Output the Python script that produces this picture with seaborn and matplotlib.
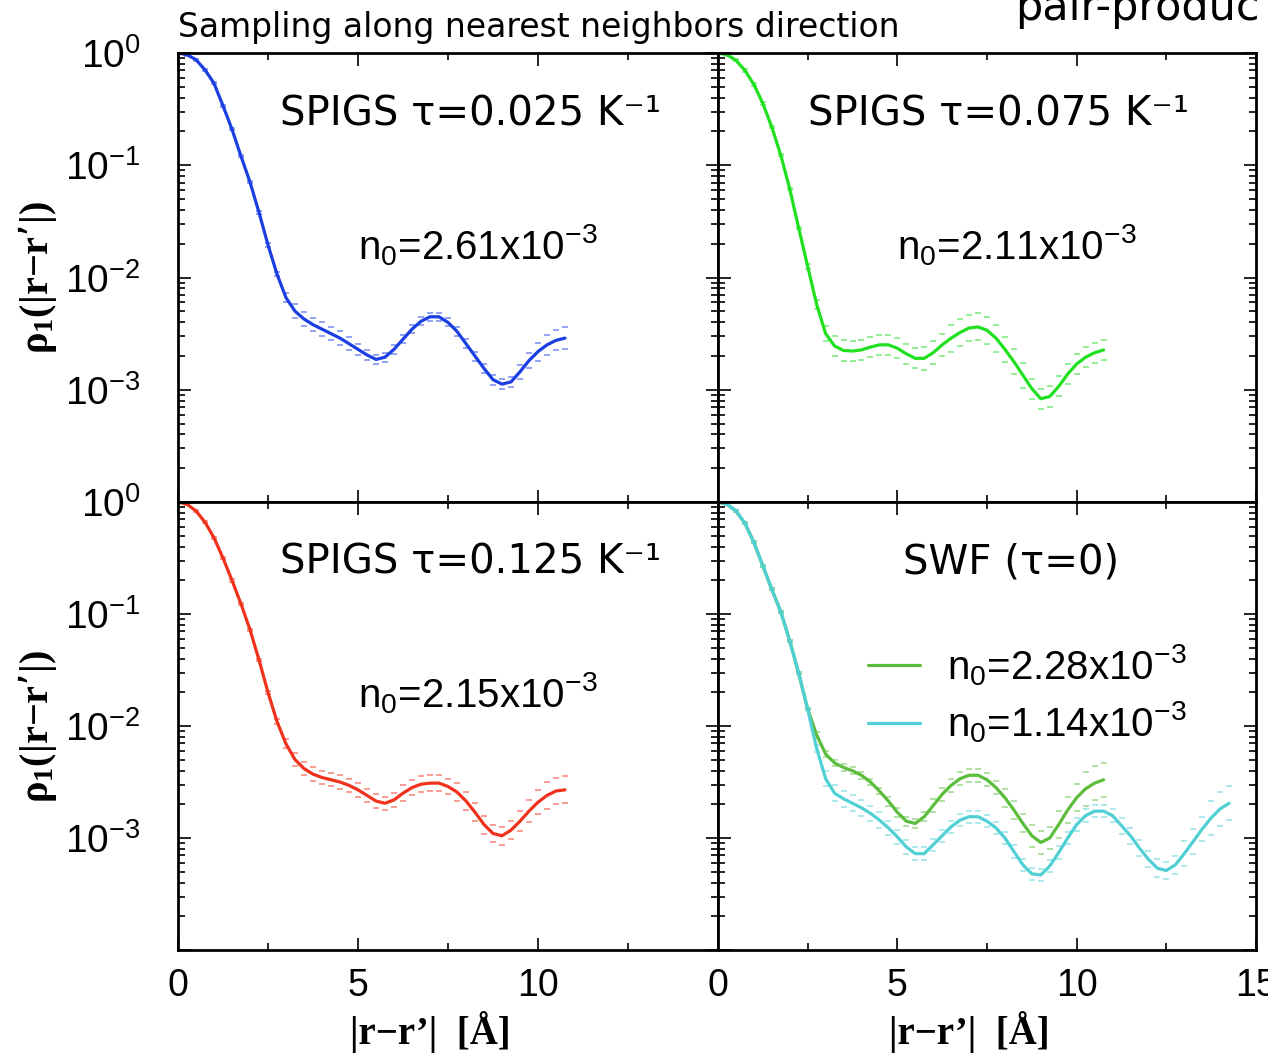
import matplotlib
matplotlib.use("Agg")
import numpy as np
import matplotlib.pyplot as plt
import seaborn as sns
from matplotlib.ticker import FixedLocator, LogLocator, NullFormatter

# ---------------- data ----------------
# distance |r-r'| in Angstrom
x_main = [0.0, 0.25, 0.5, 0.75, 1.0, 1.25, 1.5, 1.75, 2.0, 2.25, 2.5, 2.75,
          3.0, 3.25, 3.5, 3.75, 4.0, 4.25, 4.5, 4.75, 5.0, 5.25, 5.5, 5.75,
          6.0, 6.25, 6.5, 6.75, 7.0, 7.25, 7.5, 7.75, 8.0, 8.25, 8.5, 8.75,
          9.0, 9.25, 9.5, 9.75, 10.0, 10.25, 10.5, 10.75]
x_long = [0.0, 0.25, 0.5, 0.75, 1.0, 1.25, 1.5, 1.75, 2.0, 2.25, 2.5, 2.75,
          3.0, 3.25, 3.5, 3.75, 4.0, 4.25, 4.5, 4.75, 5.0, 5.25, 5.5, 5.75,
          6.0, 6.25, 6.5, 6.75, 7.0, 7.25, 7.5, 7.75, 8.0, 8.25, 8.5, 8.75,
          9.0, 9.25, 9.5, 9.75, 10.0, 10.25, 10.5, 10.75, 11.0, 11.25, 11.5,
          11.75, 12.0, 12.25, 12.5, 12.75, 13.0, 13.25, 13.5, 13.75, 14.0, 14.25]

# log10 of rho_1 and log10 half-width of error bars
spigs025_log = [0.0, -0.015, -0.06, -0.15, -0.27, -0.47, -0.68, -0.92, -1.15, -1.42,
                -1.71, -1.97, -2.18, -2.30, -2.37, -2.42, -2.46, -2.50, -2.54, -2.59,
                -2.64, -2.69, -2.73, -2.71, -2.64, -2.55, -2.46, -2.39, -2.35, -2.35,
                -2.40, -2.48, -2.59, -2.70, -2.81, -2.91, -2.95, -2.93, -2.84, -2.74,
                -2.66, -2.60, -2.56, -2.54]
spigs025_err = [0.01, 0.01, 0.01, 0.01, 0.01, 0.01, 0.01, 0.01, 0.01, 0.01,
                0.015, 0.02, 0.04, 0.06, 0.06, 0.06, 0.06, 0.06, 0.06, 0.06,
                0.05, 0.045, 0.04, 0.04, 0.04, 0.035, 0.035, 0.035, 0.035, 0.035,
                0.035, 0.04, 0.04, 0.04, 0.04, 0.045, 0.045, 0.045, 0.06, 0.07,
                0.08, 0.09, 0.09, 0.095]

spigs075_log = [0.0, -0.015, -0.065, -0.155, -0.28, -0.45, -0.66, -0.91, -1.21, -1.56,
                -1.90, -2.24, -2.50, -2.61, -2.65, -2.655, -2.645, -2.62, -2.60, -2.60,
                -2.63, -2.68, -2.72, -2.72, -2.67, -2.60, -2.54, -2.49, -2.45, -2.44,
                -2.47, -2.54, -2.64, -2.75, -2.87, -2.99, -3.08, -3.06, -2.97, -2.86,
                -2.77, -2.71, -2.67, -2.645]
spigs075_err = [0.01, 0.01, 0.01, 0.01, 0.01, 0.01, 0.01, 0.01, 0.01, 0.01,
                0.02, 0.04, 0.07, 0.09, 0.09, 0.09, 0.09, 0.09, 0.09, 0.09,
                0.09, 0.09, 0.09, 0.10, 0.10, 0.10, 0.12, 0.12, 0.12, 0.12,
                0.12, 0.12, 0.11, 0.11, 0.11, 0.09, 0.09, 0.09, 0.09, 0.09,
                0.09, 0.09, 0.09, 0.09]

spigs125_log = [0.0, -0.02, -0.08, -0.18, -0.32, -0.50, -0.70, -0.91, -1.14, -1.41,
                -1.70, -1.96, -2.16, -2.30, -2.38, -2.43, -2.46, -2.48, -2.50, -2.53,
                -2.57, -2.62, -2.67, -2.69, -2.66, -2.60, -2.55, -2.52, -2.51, -2.51,
                -2.54, -2.59, -2.67, -2.77, -2.88, -2.96, -2.98, -2.93, -2.85, -2.76,
                -2.68, -2.62, -2.58, -2.57]
spigs125_err = [0.01, 0.01, 0.01, 0.01, 0.01, 0.01, 0.01, 0.01, 0.01, 0.01,
                0.01, 0.02, 0.04, 0.06, 0.06, 0.06, 0.06, 0.06, 0.06, 0.06,
                0.06, 0.06, 0.06, 0.06, 0.06, 0.07, 0.07, 0.07, 0.07, 0.07,
                0.07, 0.08, 0.08, 0.08, 0.08, 0.08, 0.08, 0.08, 0.09, 0.10,
                0.11, 0.12, 0.12, 0.12]

swf_a_log = [0.0, -0.02, -0.08, -0.19, -0.36, -0.57, -0.78, -0.98, -1.24, -1.53,
             -1.85, -2.08, -2.25, -2.33, -2.37, -2.40, -2.44, -2.50, -2.58, -2.67,
             -2.77, -2.85, -2.87, -2.81, -2.71, -2.61, -2.53, -2.47, -2.44, -2.44,
             -2.48, -2.55, -2.64, -2.75, -2.87, -2.98, -3.04, -3.00, -2.88, -2.75,
             -2.64, -2.56, -2.51, -2.48]
swf_a_err = [0.01, 0.01, 0.01, 0.01, 0.01, 0.01, 0.01, 0.01, 0.01, 0.01,
             0.01, 0.03, 0.03, 0.03, 0.03, 0.03, 0.03, 0.03, 0.03, 0.04,
             0.04, 0.04, 0.04, 0.04, 0.06, 0.06, 0.06, 0.06, 0.06, 0.06,
             0.06, 0.06, 0.08, 0.08, 0.08, 0.10, 0.10, 0.10, 0.12, 0.12,
             0.12, 0.15, 0.15, 0.15]

swf_b_log = [0.0, -0.02, -0.08, -0.19, -0.36, -0.57, -0.78, -0.98, -1.24, -1.53,
             -1.85, -2.20, -2.47, -2.60, -2.65, -2.69, -2.73, -2.78, -2.84, -2.91,
             -2.99, -3.08, -3.14, -3.14, -3.06, -2.98, -2.90, -2.84, -2.81, -2.81,
             -2.85, -2.91, -3.00, -3.12, -3.24, -3.32, -3.33, -3.25, -3.13, -3.00,
             -2.88, -2.80, -2.76, -2.76, -2.80, -2.89, -2.98, -3.09, -3.19, -3.27,
             -3.29, -3.24, -3.14, -3.03, -2.92, -2.82, -2.74, -2.69]
swf_b_err = [0.01, 0.01, 0.01, 0.01, 0.01, 0.01, 0.01, 0.01, 0.01, 0.01,
             0.01, 0.03, 0.07, 0.07, 0.07, 0.07, 0.07, 0.07, 0.07, 0.06,
             0.06, 0.06, 0.06, 0.06, 0.055, 0.055, 0.055, 0.055, 0.055, 0.055,
             0.055, 0.055, 0.055, 0.055, 0.055, 0.055, 0.055, 0.055, 0.055, 0.055,
             0.055, 0.055, 0.055, 0.055, 0.055, 0.07, 0.07, 0.07, 0.07, 0.08,
             0.08, 0.08, 0.11, 0.11, 0.11, 0.15, 0.15, 0.15]

panel_titles = ["SPIGS τ=0.025 K⁻¹", "SPIGS τ=0.075 K⁻¹",
                "SPIGS τ=0.125 K⁻¹", "SWF (τ=0)"]
n0_labels = ["n$_0$=2.61x10$^{-3}$", "n$_0$=2.11x10$^{-3}$", "n$_0$=2.15x10$^{-3}$"]
swf_labels = ["n$_0$=2.28x10$^{-3}$", "n$_0$=1.14x10$^{-3}$"]
ytick_vals = [1.0, 1e-1, 1e-2, 1e-3, 1e-4]
ytick_text = ["$10^{0}$", "$10^{-1}$", "$10^{-2}$", "$10^{-3}$", ""]
xtick_vals = [0, 5, 10, 15]

# ---------------- style ----------------
sns.set_theme(style="ticks")
plt.rcParams["mathtext.default"] = "regular"
plt.rcParams["font.family"] = ["DejaVu Sans"]
plt.rcParams["axes.linewidth"] = 2.0
for k in ("text.color", "axes.labelcolor", "xtick.color", "ytick.color",
          "axes.edgecolor"):
    plt.rcParams[k] = "black"

SANS = "Liberation Sans"
SERIF = "Liberation Serif"

c_blue = "#1b3ee2"
c_green = "#20e020"
c_red = "#f0321c"
c_swfa = "#5cbd3c"
c_swfb = "#50d0d4"

fig = plt.figure(figsize=(12.68, 10.55), dpi=100)
axTL = fig.add_axes([0.14038, 0.52417, 0.42587, 0.42559])
axTR = fig.add_axes([0.56625, 0.52417, 0.42429, 0.42559])
axBL = fig.add_axes([0.14038, 0.09953, 0.42587, 0.42464])
axBR = fig.add_axes([0.56625, 0.09953, 0.42429, 0.42464])


def draw(ax, x, logy, elog, color, label=None):
    x = np.asarray(x, float)
    ly = np.asarray(logy, float)
    e = np.asarray(elog, float)
    sns.lineplot(x=x, y=10 ** ly, ax=ax, color=color, lw=2.3, sort=False,
                 estimator=None, label=label, legend=(label is not None))
    for sgn in (1, -1):
        ax.plot(x, 10 ** (ly + sgn * e), ls="none", marker="_", ms=5, mew=1.1,
                color=color, alpha=0.6)


draw(axTL, x_main, spigs025_log, spigs025_err, c_blue)
draw(axTR, x_main, spigs075_log, spigs075_err, c_green)
draw(axBL, x_main, spigs125_log, spigs125_err, c_red)
draw(axBR, x_main, swf_a_log, swf_a_err, c_swfa, swf_labels[0])
draw(axBR, x_long, swf_b_log, swf_b_err, c_swfb, swf_labels[1])

for ax in (axTL, axTR, axBL, axBR):
    ax.set_xlim(0, 15)
    ax.set_yscale("log")
    ax.set_ylim(1e-4, 1)
    ax.xaxis.set_major_locator(FixedLocator(xtick_vals))
    ax.xaxis.set_minor_locator(FixedLocator([2.5, 7.5, 12.5]))
    ax.yaxis.set_major_locator(FixedLocator(ytick_vals))
    ax.yaxis.set_minor_locator(LogLocator(base=10, subs=np.arange(2, 10), numticks=20))
    ax.yaxis.set_minor_formatter(NullFormatter())
    ax.tick_params(which="both", direction="in", top=True, right=True,
                   color="black", width=1.2)
    ax.tick_params(which="major", length=9)
    ax.tick_params(which="minor", length=5)
    ax.tick_params(axis="x", pad=13, labelsize=27)
    ax.tick_params(axis="y", pad=27, labelsize=28)
    ax.set_xlabel("")
    ax.set_ylabel("")
    for s in ax.spines.values():
        s.set_color("black")
        s.set_linewidth(2.0)

for ax in (axTL, axBL):
    ax.set_yticks(ytick_vals)
    ax.set_yticklabels(ytick_text, fontfamily=SANS)
    ax.set_ylabel("ρ$_1$(|r−r’|)", fontfamily=SERIF, fontweight="bold",
                  fontsize=29, labelpad=4)
for ax in (axTR, axBR):
    ax.tick_params(axis="y", labelleft=False)
for ax in (axTL, axTR):
    ax.tick_params(axis="x", labelbottom=False)

axBL.set_xticks(xtick_vals)
axBL.set_xticklabels(["0", "5", "10", ""], fontfamily=SANS)
axBR.set_xticks(xtick_vals)
axBR.set_xticklabels(["0", "5", "10", "15"], fontfamily=SANS)
for ax in (axBL, axBR):
    ax.set_xlabel("|r−r’|  [Å]", fontfamily=SERIF, fontweight="bold",
                  fontsize=28, labelpad=5)
    ax.xaxis.label.set_x(0.468)

# panel titles
title_pos = [(axTL, 0.189, 0.862), (axTR, 0.167, 0.862),
             (axBL, 0.189, 0.866), (axBR, 0.344, 0.866)]
for (ax, tx, ty), t in zip(title_pos, panel_titles):
    ax.text(tx, ty, t, transform=ax.transAxes, fontsize=29, ha="left",
            va="center", fontfamily="DejaVu Sans")

n0_pos = [(axTL, 0.333, 0.572), (axTR, 0.333, 0.572), (axBL, 0.333, 0.574)]
for (ax, tx, ty), t in zip(n0_pos, n0_labels):
    ax.text(tx, ty, t, transform=ax.transAxes, fontsize=29, ha="left",
            va="center", fontfamily=SANS)

axBR.legend(loc="center left", bbox_to_anchor=(0.279, 0.572), frameon=False,
            prop={"family": SANS, "size": 29}, handlelength=1.3,
            handletextpad=0.65, labelspacing=0.3, borderpad=0, borderaxespad=0)

fig.text(178 / 1268, 1 - 27 / 1055, "Sampling along nearest neighbors direction",
         fontsize=23.8, ha="left", va="center", fontfamily="DejaVu Sans")
fig.text(1015 / 1268, 1 - 20 / 1055, "pair-produc", fontsize=31, ha="left",
         va="baseline", fontfamily="DejaVu Sans")

fig.savefig("out.png", dpi=100)
